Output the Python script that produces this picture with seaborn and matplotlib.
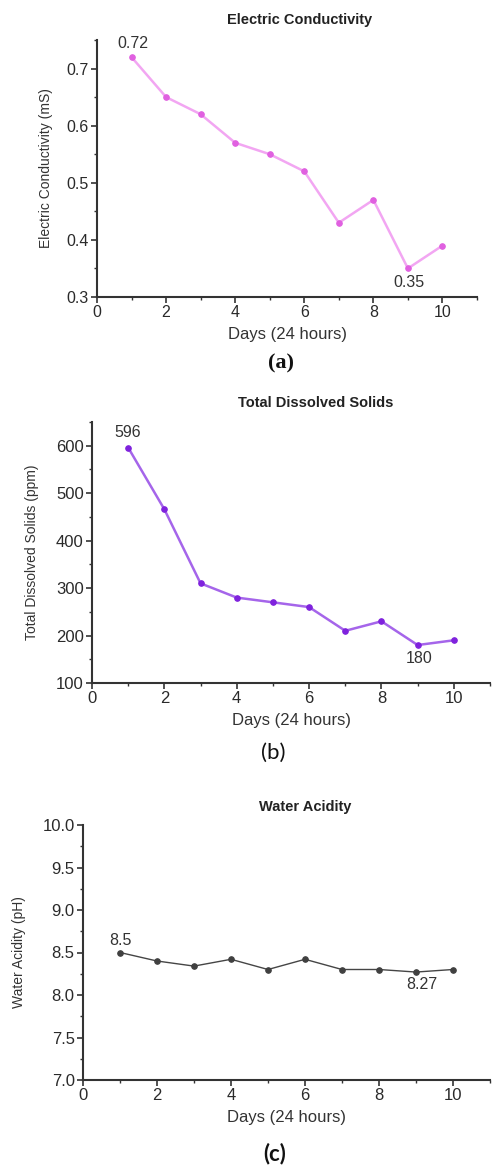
import matplotlib
matplotlib.use("Agg")
import matplotlib.pyplot as plt
import seaborn as sns
import pandas as pd
from matplotlib.ticker import MultipleLocator

days = [1, 2, 3, 4, 5, 6, 7, 8, 9, 10]
ec_values = [0.72, 0.65, 0.62, 0.57, 0.55, 0.52, 0.43, 0.47, 0.35, 0.39]
tds_values = [596, 466, 310, 280, 270, 260, 210, 230, 180, 190]
ph_values = [8.5, 8.4, 8.34, 8.42, 8.3, 8.42, 8.3, 8.3, 8.27, 8.3]

titles = ["Electric Conductivity", "Total Dissolved Solids", "Water Acidity"]
ylabels = ["Electric Conductivity (mS)", "Total Dissolved Solids (ppm)", "Water Acidity (pH)"]
xlabel = "Days (24 hours)"
captions = ["(a)", "(b)", "(c)"]

sns.set_style("ticks")
plt.rcParams['font.family'] = ['Liberation Sans', 'DejaVu Sans']

W, H = 495, 1168
fig = plt.figure(figsize=(W / 100, H / 100), dpi=100)

def frac_rect(l, t, r, b):
    return [l / W, 1 - b / H, (r - l) / W, (b - t) / H]

panels = [
    dict(vals=ec_values, rect=frac_rect(97, 40, 477, 297), ylim=(0.3, 0.75),
         major=0.1, minor=0.05, fmt="{:.1f}", line="#F2A6F2", mk="#E060E0", lw=1.8,
         ann=[(0, "0.72", (1, 10)), (8, "0.35", (1, -10))],
         title_xy=(300, 20), cap_xy=(281, 363), tick_fs=11.5, ylab_x=47,
         cap_font=dict(family=["Liberation Serif", "DejaVu Serif"], fontweight="bold", fontsize=16)),
    dict(vals=tds_values, rect=frac_rect(92, 422, 490, 683), ylim=(100, 650),
         major=100, minor=50, fmt="{:.0f}", line="#A565EA", mk="#7F22DD", lw=1.8,
         ann=[(0, "596", (0, 11)), (8, "180", (1, -10))],
         title_xy=(316, 403), cap_xy=(273, 753), tick_fs=12, ylab_x=33,
         cap_font=dict(family=["Lato", "DejaVu Sans"], fontweight="normal", fontsize=16)),
    dict(vals=ph_values, rect=frac_rect(83, 825, 490, 1080), ylim=(7.0, 10.0),
         major=0.5, minor=0.25, fmt="{:.1f}", line="#454545", mk="#404040", lw=1.0,
         ann=[(0, "8.5", (0, 8.5)), (8, "8.27", (4.5, -9))],
         title_xy=(305, 807), cap_xy=(275, 1154), tick_fs=12, ylab_x=20,
         cap_font=dict(family=["Lato", "DejaVu Sans"], fontweight="bold", fontsize=16)),
]

for i, p in enumerate(panels):
    ax = fig.add_axes(p["rect"])
    df = pd.DataFrame({"day": days, "val": p["vals"]})
    sns.lineplot(data=df, x="day", y="val", ax=ax, color=p["line"], lw=p["lw"],
                 marker="o", markersize=4, markerfacecolor=p["mk"],
                 markeredgecolor=p["mk"])
    ax.set_xlim(0, 11)
    ax.set_ylim(*p["ylim"])
    ax.xaxis.set_minor_locator(MultipleLocator(1))
    ax.yaxis.set_minor_locator(MultipleLocator(p["minor"]))
    ax.set_xticks(range(0, 11, 2))
    ax.set_xticklabels([str(v) for v in range(0, 11, 2)])
    lo, hi = p["ylim"]
    yt = []
    v = lo
    while v <= hi + 1e-9:
        yt.append(round(v, 6))
        v += p["major"]
    ax.set_yticks(yt)
    ax.set_yticklabels([p["fmt"].format(t) for t in yt])
    ax.tick_params(axis="both", which="major", labelsize=p["tick_fs"], length=4, width=1.2,
                   colors="#333333", labelcolor="#2a2a2a", direction="out", pad=2)
    ax.tick_params(axis="both", which="minor", length=2.5, width=1.0, colors="#333333")
    for s in ["left", "bottom"]:
        ax.spines[s].set_linewidth(1.5)
        ax.spines[s].set_color("#333333")
    sns.despine(ax=ax)
    ax.set_xlabel(xlabel, fontsize=12, color="#333333", labelpad=5)
    ax.set_ylabel(ylabels[i], fontsize=10, color="#333333")
    ax_left_px = p["rect"][0] * W
    ax_w_px = p["rect"][2] * W
    ax.yaxis.set_label_coords((p["ylab_x"] + 6 - ax_left_px) / ax_w_px, 0.5)
    fig.text(p["title_xy"][0] / W, 1 - p["title_xy"][1] / H, titles[i], ha="center",
             va="center", fontsize=10.5, fontweight="bold", color="#222222")
    for idx, txt, off in p["ann"]:
        ax.annotate(txt, (days[idx], p["vals"][idx]), xytext=off, textcoords="offset points",
                    ha="center", va="center", fontsize=11.5, color="#333333")
    fig.text(p["cap_xy"][0] / W, 1 - p["cap_xy"][1] / H, captions[i], ha="center", va="center",
             color="#111111", **p["cap_font"])

fig.savefig("out.png", dpi=100)
